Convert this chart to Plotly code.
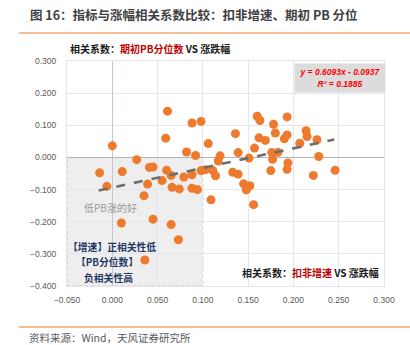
import plotly.graph_objects as go

# ---- data ----
growth_x = [0.061, 0.059, 0.000, 0.027, -0.014, 0.011, 0.041, 0.045, 0.060, 0.065,
            -0.006, 0.039, 0.055, 0.066, 0.074, 0.035, 0.045, 0.010, 0.065, 0.073,
            0.036, 0.088, 0.098, 0.160, 0.163, 0.178, 0.180, 0.136, 0.106, 0.162,
            0.169, 0.157, 0.082, 0.092, 0.139, 0.119, 0.117, 0.151, 0.176, 0.183,
            0.177, 0.079, 0.088, 0.098, 0.103, 0.111, 0.114, 0.133, 0.139, 0.175,
            0.088, 0.094, 0.145, 0.152, 0.148, 0.109, 0.156, 0.193, 0.193, 0.190,
            0.214, 0.215, 0.207, 0.226, 0.228, 0.194, 0.193, 0.222, 0.246]
return_y = [0.144, 0.060, 0.036, -0.007, -0.048, -0.044, -0.031, -0.030, -0.040, -0.056,
            -0.090, -0.083, -0.072, -0.093, -0.098, -0.119, -0.192, -0.204, -0.209, -0.256,
            -0.319, 0.107, 0.112, 0.128, 0.115, 0.103, 0.076, 0.074, 0.043, 0.061,
            0.053, 0.029, 0.017, 0.006, 0.015, 0.005, -0.011, -0.002, 0.015, 0.016,
            -0.006, -0.061, -0.054, -0.041, -0.038, -0.041, -0.057, -0.046, -0.052, -0.041,
            -0.096, -0.100, -0.082, -0.088, -0.101, -0.132, -0.147, 0.126, 0.070, 0.058,
            0.083, 0.065, 0.044, 0.055, 0.003, -0.017, -0.037, -0.056, -0.040]
slope = 0.6093
intercept = -0.0937
r_squared = 0.1885
trend_x = [-0.015, 0.245]
x_ticks = [-0.05, 0.0, 0.05, 0.10, 0.15, 0.20, 0.25, 0.30]
y_ticks = [-0.4, -0.3, -0.2, -0.1, 0.0, 0.1, 0.2, 0.3]

title_text = "图 16：指标与涨幅相关系数比较：扣非增速、期初 PB 分位"
source_text = "资料来源：Wind，天风证券研究所"

# ---- layout helpers (pixel -> paper) ----
W, H = 410, 345
L, R, T, B = 67, 26, 61, 59
def px(x):
    return (x - L) / (W - L - R)
def py(y):
    return (H - B - y) / (H - T - B)

CJK = "Noto Sans CJK SC, Liberation Sans, sans-serif"

fig = go.Figure()

fig.add_trace(go.Scatter(
    x=growth_x, y=return_y, mode="markers",
    marker=dict(size=9, color="#EE7A2E", line=dict(width=0)),
    showlegend=False, hoverinfo="x+y"))

trend_y = [slope * v + intercept for v in trend_x]
fig.add_trace(go.Scatter(
    x=trend_x, y=trend_y, mode="lines",
    line=dict(color="#6E6E6E", width=2.6, dash="dash"),
    showlegend=False, hoverinfo="skip"))

shapes = [
    dict(type="rect", xref="x", yref="y", x0=-0.05, x1=0.10, y0=-0.4, y1=0.0,
         fillcolor="rgba(200,200,200,0.3)", line=dict(color="#C4C4C4", width=1, dash="dot"),
         layer="below"),
    dict(type="line", xref="paper", yref="paper", x0=px(19), x1=px(410), y0=py(33), y1=py(33),
         line=dict(color="#F5A66E", width=1.5)),
    dict(type="line", xref="paper", yref="paper", x0=px(19), x1=px(410), y0=py(327), y1=py(327),
         line=dict(color="#F5A66E", width=1.5)),
]

annotations = [
    dict(text="<b>" + title_text + "</b>", xref="paper", yref="paper", x=px(28), y=py(14),
         xanchor="left", yanchor="middle", showarrow=False,
         font=dict(family=CJK, size=12.5, color="#3F3F3F")),
    dict(text=source_text, xref="paper", yref="paper", x=px(27), y=py(337.5),
         xanchor="left", yanchor="middle", showarrow=False,
         font=dict(family=CJK, size=10.5, color="#595959")),
    dict(text="<b>相关系数：<span style='color:#C00000'>期初PB分位数</span> VS 涨跌幅</b>",
         xref="paper", yref="paper", x=px(68), y=py(48), xanchor="left", yanchor="middle",
         showarrow=False, font=dict(family=CJK, size=10, color="#1A1A1A")),
    dict(text="<b>相关系数：<span style='color:#C00000'>扣非增速</span> VS 涨跌幅</b>",
         xref="paper", yref="paper", x=px(381), y=py(272), xanchor="right", yanchor="middle",
         showarrow=False, font=dict(family=CJK, size=10, color="#1A1A1A")),
    dict(text="<b><i>y = %.4fx - %.4f<br>R² = %.4f</i></b>" % (slope, -intercept, r_squared),
         xref="paper", yref="paper", x=px(340), y=py(78), xanchor="center", yanchor="middle",
         showarrow=False, bgcolor="#DCDCDC", width=88, height=26, align="center",
         font=dict(family="Liberation Sans, Arial, sans-serif", size=8.5, color="#FF0000")),
    dict(text="低PB涨的好", xref="paper", yref="paper", x=px(110), y=py(207),
         xanchor="center", yanchor="middle", showarrow=False,
         font=dict(family=CJK, size=10, color="#9A9A9A")),
    dict(text="<b>【增速】正相关性低</b>", xref="paper", yref="paper", x=px(112), y=py(247),
         xanchor="center", yanchor="middle", showarrow=False,
         font=dict(family=CJK, size=9.8, color="#1F3864")),
    dict(text="<b>【PB分位数】</b>", xref="paper", yref="paper", x=px(107), y=py(262),
         xanchor="center", yanchor="middle", showarrow=False,
         font=dict(family=CJK, size=9.8, color="#1F3864")),
    dict(text="<b>负相关性高</b>", xref="paper", yref="paper", x=px(108), y=py(278),
         xanchor="center", yanchor="middle", showarrow=False,
         font=dict(family=CJK, size=9.8, color="#1F3864")),
]

tickfont = dict(family="Liberation Sans, Arial, sans-serif", size=8.5, color="#595959")
fig.update_layout(
    width=W, height=H, margin=dict(l=L, r=R, t=T, b=B),
    paper_bgcolor="white", plot_bgcolor="white",
    shapes=shapes, annotations=annotations, showlegend=False,
    xaxis=dict(range=[-0.05, 0.30], tickvals=x_ticks, tickformat=".3f",
               showgrid=True, gridcolor="#E3E6EE", gridwidth=1,
               zeroline=True, zerolinecolor="#BFC8DA", zerolinewidth=1.2,
               showline=True, linecolor="#E3E6EE", mirror=True,
               ticks="", tickfont=tickfont, ticklabelstandoff=6, fixedrange=True),
    yaxis=dict(range=[-0.4, 0.30], tickvals=y_ticks, tickformat=".3f",
               showgrid=True, gridcolor="#E3E6EE", gridwidth=1,
               zeroline=True, zerolinecolor="#B4B4B4", zerolinewidth=1.2,
               showline=True, linecolor="#E3E6EE", mirror=True,
               ticks="", tickfont=tickfont, ticklabelstandoff=8, fixedrange=True),
)

fig.write_html("out.html", config=dict(displayModeBar=False))
